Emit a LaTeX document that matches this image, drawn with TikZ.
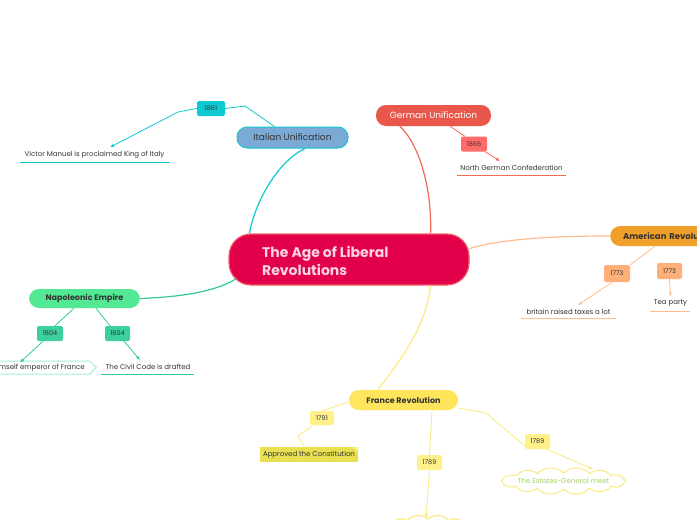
\documentclass[tikz,border=0pt]{standalone}
\usepackage{fontspec}
\setmainfont{Poppins}
\usetikzlibrary{shapes.symbols,shapes.misc,arrows.meta,calc}
\definecolor{cenfill}{HTML}{E3004A}
\definecolor{cenline}{HTML}{F0606A}
\definecolor{centext}{HTML}{FBD3E2}
\definecolor{cyanc}{HTML}{10C8D0}
\definecolor{itafill}{HTML}{7BAAD6}
\definecolor{gerfill}{HTML}{E8574A}
\definecolor{redbox}{HTML}{FF6B6B}
\definecolor{redline}{HTML}{F06A5A}
\definecolor{amefill}{HTML}{F0A02A}
\definecolor{ameline}{HTML}{FFBC8C}
\definecolor{amebox}{HTML}{FFB07A}
\definecolor{napfill}{HTML}{52E894}
\definecolor{napline}{HTML}{30C8A0}
\definecolor{napbox}{HTML}{3CD0A0}
\definecolor{napsig}{HTML}{A8EED4}
\definecolor{frafill}{HTML}{FFE55C}
\definecolor{fraline}{HTML}{FAEA80}
\definecolor{frabox}{HTML}{FFF08A}
\definecolor{appfill}{HTML}{E8E050}
\definecolor{cloudtext}{HTML}{A8D060}
\definecolor{darktext}{HTML}{333333}
\tikzset{
  topic/.style={rounded corners=10pt, inner sep=0pt, font=\fontsize{9}{10}\selectfont, text=darktext},
  yearbox/.style={rounded corners=2pt, inner sep=0pt, font=\fontsize{6.5}{7}\selectfont, text=darktext, minimum width=26pt, minimum height=15pt},
  leaf/.style={inner sep=1pt, font=\fontsize{7}{8}\selectfont, text=darktext},
  conn/.style={line width=0.8pt},
  main/.style={line width=1.2pt},
  tip/.style={-{Latex[length=4pt,width=3.5pt]}},
}
\begin{document}
\begin{tikzpicture}[x=1pt,y=-1pt]
\clip (0,0) rectangle (697,520);
\fill[white] (0,0) rectangle (697,520);

% central
\node[draw=cenline, line width=1.2pt, fill=cenfill, rounded corners=22pt, minimum width=240pt, minimum height=51pt, inner sep=0pt] (cen) at (349,259.5) {};
\node[anchor=west, align=left, text=centext, font=\fontsize{14}{18}\selectfont\bfseries, inner sep=0pt] (centxt) at (262,261) {The Age of Liberal\\Revolutions};

% Italian
\node[topic, draw=cyanc, line width=1pt, fill=itafill, minimum width=111pt, minimum height=21pt] (ita) at (292.5,137.5) {Italian Unification};
\node[yearbox, fill=cyanc, minimum width=28pt] (y1861) at (211,108.5) {1861};
\node[leaf] (victor) at (94.5,155) {Victor Manuel is proclaimed King of Italy};
\draw[cyanc, conn] (20,162) -- (170,162);

% German
\node[topic, fill=gerfill, text=white, minimum width=115pt, minimum height=21pt] (ger) at (433.5,115.5) {German Unification};
\node[yearbox, fill=redbox] (y1866) at (474,144) {1866};
\node[leaf] (ngc) at (511.5,168) {North German Confederation};
\draw[redline, conn] (457,175) -- (566,175);

% American
\node[topic, fill=amefill, minimum width=125pt, minimum height=20pt, anchor=west, text width=110pt, align=left, inner xsep=13pt, font=\fontsize{8.5}{9}\selectfont\bfseries] (ame) at (610,236) {American Revolution};
\node[yearbox, fill=amebox, minimum height=17pt] (y1773a) at (617,273.5) {1773};
\node[yearbox, fill=amebox, minimum width=25pt, minimum height=16pt] (y1773b) at (669.5,271) {1773};
\node[leaf] (brit) at (568.5,312) {britain raised taxes a lot};
\draw[ameline, conn] (521,318) -- (616,318);
\node[leaf] (tea) at (670.5,303) {Tea party};
\draw[ameline, conn] (650,311) -- (690,311);

% Napoleonic
\node[topic, fill=napfill, minimum width=111pt, minimum height=19pt, font=\fontsize{8}{9}\selectfont\bfseries] (nap) at (84.5,298.5) {Napoleonic Empire};
\node[yearbox, fill=napbox] (y1804a) at (50,333.5) {1804};
\node[yearbox, fill=napbox, minimum width=25pt] (y1804b) at (117.5,333.5) {1804};
\node[signal, signal to=east, draw=napsig, line width=1pt, inner sep=0pt, minimum height=13pt, minimum width=160pt, anchor=east] (sig) at (97,367.5) {};
\node[leaf, anchor=east] (emp) at (86,367.5) {himself emperor of France};
\node[leaf] (civil) at (148,367) {The Civil Code is drafted};
\draw[napline, conn] (101,374) -- (194,374);

% France
\node[topic, fill=frafill, minimum width=109pt, minimum height=20pt, font=\fontsize{8}{9}\selectfont\bfseries] (fra) at (403.5,400) {France Revolution};
\node[yearbox, fill=frabox, minimum width=24pt, minimum height=14pt] (y1791) at (322,418) {1791};
\node[leaf, fill=appfill, minimum width=98pt, minimum height=15pt, inner sep=0pt] (app) at (309,454.5) {Approved the Constitution};
\fill[frabox] (353,447) -- (358,447) -- (358,452) -- cycle;
\node[yearbox, fill=frabox, minimum width=25pt] (y1789a) at (429.5,462.5) {1789};
\node[yearbox, fill=frabox, minimum width=25pt] (y1789b) at (537.5,441.5) {1789};
\node[leaf, text=cloudtext] (est) at (563.5,481) {The Estates-General meet};
\draw[fraline, line width=1pt] ($(est.center)+(62,0)$)
  \foreach \a in {40,65,90,115,140,180,220,245,270,295,320,360} { to[bend left=45] ($(est.center)+({62*cos(\a)},{8*sin(\a)})$) } -- cycle;
\coordinate (botc) at (428,535);
\draw[fraline, line width=1.2pt] ($(botc)+(48,0)$)
  \foreach \a in {40,65,90,115,140,180,220,245,270,295,320,360} { to[bend left=45] ($(botc)+({48*cos(\a)},{16*sin(\a)})$) } -- cycle;
\coordinate (bottop) at (426,518);

% connectors
\draw[cyanc, main] ([xshift=21pt]cen.north west) .. controls (256,198) and (280,160) .. ([xshift=12.5pt]ita.south);
\draw[cyanc, conn] ([xshift=38pt]ita.north west) -- (245,106) -- (y1861.east);
\draw[cyanc, conn, tip] (y1861.west) -- (178,112) -- ([xshift=15.5pt,yshift=3pt]victor.north);

\draw[redline, main] ([xshift=-39pt]cen.north east) .. controls (432,190) and (420,145) .. ([xshift=24pt]ger.south west);
\draw[redline, conn] ([xshift=16.5pt]ger.south) -- ([xshift=4pt]y1866.north west);
\draw[redline, conn, tip] ([xshift=-2pt]y1866.south east) -- ([xshift=-11.5pt,yshift=3pt]ngc.north);

\draw[ameline, main] ([yshift=11pt]cen.east) .. controls (505,238) and (560,236) .. (ame.west);
\draw[ameline, conn] ([xshift=45pt]ame.south west) -- (y1773a.north east);
\draw[ameline, conn, tip] ([xshift=-5pt]y1773a.south) -- ([xshift=9.5pt,yshift=3pt]brit.north);
\draw[ameline, conn, tip] (y1773b.south) -- ([yshift=2pt]tea.north);

\draw[napline, main] ([xshift=8pt,yshift=7pt]cen.south west) .. controls (215,292) and (180,297) .. (nap.east);
\draw[napline, conn] ([xshift=-10.5pt]nap.south) -- ([xshift=5pt]y1804a.north);
\draw[napline, conn, tip] ([xshift=-7pt]y1804a.south) -- ([xshift=-70pt,yshift=-2pt]sig.north east);
\draw[napline, conn] ([xshift=11.5pt]nap.south) -- ([xshift=-7.5pt]y1804b.north);
\draw[napline, conn, tip] ([xshift=6.5pt]y1804b.south) -- ([xshift=-8pt,yshift=3pt]civil.north);

\draw[fraline, main] ([xshift=-39pt]cen.south east) .. controls (425,330) and (400,360) .. ([xshift=-25.5pt]fra.north);
\draw[fraline, conn] ([yshift=-2pt]fra.west) -- (y1791.north);
\draw[fraline, conn] ([xshift=-9pt]y1791.south) -- (298,436) -- ([xshift=-5pt]app.north);
\draw[fraline, conn] ([xshift=28.5pt]fra.south) -- (y1789a.north);
\draw[fraline, conn, tip] (y1789a.south) -- (bottop);
\draw[fraline, conn] ([yshift=-8pt]fra.east) -- (486,413) -- ([yshift=-4.5pt]y1789b.west);
\draw[fraline, conn, tip] ([xshift=-4.5pt,yshift=0.5pt]y1789b.south east) -- ([xshift=29.5pt,yshift=8pt]est.north);
\end{tikzpicture}
\end{document}
